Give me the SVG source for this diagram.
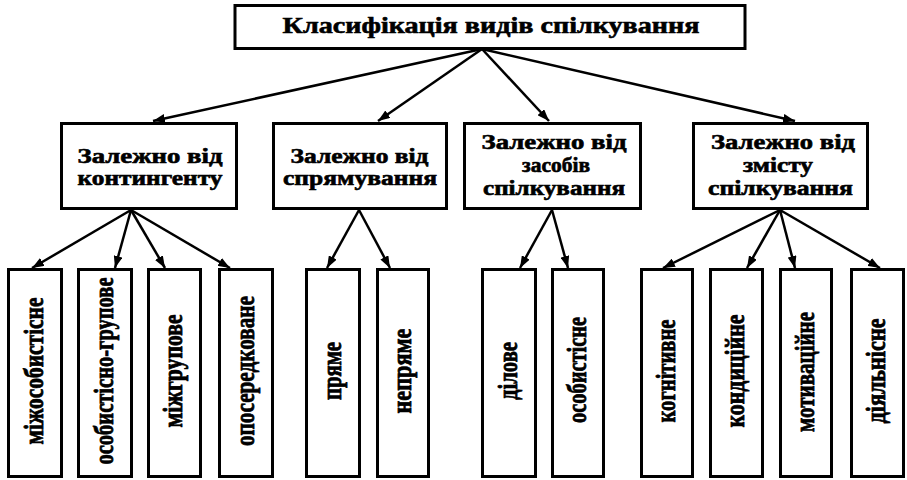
<svg xmlns="http://www.w3.org/2000/svg" width="907" height="480" viewBox="0 0 907 480">
  <style>
    .box { fill: #ffffff; stroke: #000000; stroke-width: 3; }
    .link { fill: none; stroke: #000000; stroke-width: 2.5; marker-end: url(#arrow); }
    text { font-family: "Liberation Serif", "Times New Roman", serif; font-weight: bold; fill: #000000; stroke: #000000; stroke-width: 0.6; }
    .title { font-size: 23px; text-anchor: middle; }
    .cat { font-size: 20px; text-anchor: middle; }
    .leaf { font-size: 21px; text-anchor: middle; }
  </style>
  <defs>
    <marker id="arrow" viewBox="0 0 12 9" refX="12" refY="4.5" markerWidth="12" markerHeight="9" markerUnits="userSpaceOnUse" orient="auto">
      <path d="M0,0 L12,4.5 L0,9 Z" fill="#000000"/>
    </marker>
  </defs>
  <rect width="907" height="480" fill="#ffffff"/>

  <!-- connectors -->
  <g id="connectors">
    <line class="link" x1="482" y1="49" x2="153" y2="121"/>
    <line class="link" x1="482" y1="49" x2="378" y2="121"/>
    <line class="link" x1="482" y1="49" x2="549" y2="121"/>
    <line class="link" x1="482" y1="49" x2="795" y2="121"/>

    <line class="link" x1="131" y1="210" x2="32" y2="268"/>
    <line class="link" x1="131" y1="210" x2="115" y2="268"/>
    <line class="link" x1="131" y1="210" x2="165" y2="268"/>
    <line class="link" x1="131" y1="210" x2="230" y2="268"/>

    <line class="link" x1="359" y1="210" x2="327" y2="268"/>
    <line class="link" x1="359" y1="210" x2="390" y2="268"/>

    <line class="link" x1="552" y1="210" x2="520" y2="268"/>
    <line class="link" x1="552" y1="210" x2="568" y2="268"/>

    <line class="link" x1="780" y1="210" x2="663" y2="268"/>
    <line class="link" x1="780" y1="210" x2="747" y2="268"/>
    <line class="link" x1="780" y1="210" x2="795" y2="268"/>
    <line class="link" x1="780" y1="210" x2="880" y2="268"/>
  </g>

  <!-- root -->
  <g id="root">
    <rect class="box" x="235" y="5.5" width="510" height="43"/>
    <text class="title" x="491" y="33" textLength="417" lengthAdjust="spacingAndGlyphs">Класифікація видів спілкування</text>
  </g>

  <!-- categories -->
  <g id="cat-contingent">
    <rect class="box" x="61.5" y="123.5" width="175" height="85"/>
    <text class="cat" x="150" y="163" textLength="145" lengthAdjust="spacingAndGlyphs">Залежно від</text>
    <text class="cat" x="150" y="185" textLength="145" lengthAdjust="spacingAndGlyphs">контингенту</text>
  </g>
  <g id="cat-direction">
    <rect class="box" x="273.5" y="123.5" width="173" height="85"/>
    <text class="cat" x="359.5" y="163" textLength="138" lengthAdjust="spacingAndGlyphs">Залежно від</text>
    <text class="cat" x="360" y="185" textLength="154" lengthAdjust="spacingAndGlyphs">спрямування</text>
  </g>
  <g id="cat-means">
    <rect class="box" x="464.5" y="123.5" width="176" height="85"/>
    <text class="cat" x="554" y="149" textLength="145" lengthAdjust="spacingAndGlyphs">Залежно від</text>
    <text class="cat" x="556" y="172" textLength="68" lengthAdjust="spacingAndGlyphs">засобів</text>
    <text class="cat" x="554" y="195" textLength="142" lengthAdjust="spacingAndGlyphs">спілкування</text>
  </g>
  <g id="cat-content">
    <rect class="box" x="693.5" y="123.5" width="174" height="85"/>
    <text class="cat" x="783" y="149" textLength="144" lengthAdjust="spacingAndGlyphs">Залежно від</text>
    <text class="cat" x="778" y="172" textLength="70" lengthAdjust="spacingAndGlyphs">змісту</text>
    <text class="cat" x="780.5" y="195" textLength="145" lengthAdjust="spacingAndGlyphs">спілкування</text>
  </g>

  <!-- leaves -->
  <g id="leaf-interpersonal">
    <rect class="box" x="8.5" y="269.5" width="53" height="207"/>
    <text class="leaf" transform="translate(43,371) scale(1.35,1) rotate(-90)" textLength="147" lengthAdjust="spacingAndGlyphs">міжособистісне</text>
  </g>
  <g id="leaf-personal-group">
    <rect class="box" x="78.5" y="269.5" width="53" height="207"/>
    <text class="leaf" transform="translate(113,371) scale(1.35,1) rotate(-90)" textLength="187" lengthAdjust="spacingAndGlyphs">особистісно-групове</text>
  </g>
  <g id="leaf-intergroup">
    <rect class="box" x="148.5" y="269.5" width="52" height="207"/>
    <text class="leaf" transform="translate(182,371) scale(1.35,1) rotate(-90)" textLength="113" lengthAdjust="spacingAndGlyphs">міжгрупове</text>
  </g>
  <g id="leaf-mediated">
    <rect class="box" x="219.5" y="269.5" width="53" height="207"/>
    <text class="leaf" transform="translate(254,371) scale(1.35,1) rotate(-90)" textLength="150" lengthAdjust="spacingAndGlyphs">опосередковане</text>
  </g>

  <g id="leaf-direct">
    <rect class="box" x="306.5" y="269.5" width="53" height="207"/>
    <text class="leaf" transform="translate(341,371) scale(1.35,1) rotate(-90)" textLength="58" lengthAdjust="spacingAndGlyphs">пряме</text>
  </g>
  <g id="leaf-indirect">
    <rect class="box" x="377.5" y="269.5" width="51" height="207"/>
    <text class="leaf" transform="translate(411,371) scale(1.35,1) rotate(-90)" textLength="85" lengthAdjust="spacingAndGlyphs">непряме</text>
  </g>

  <g id="leaf-business">
    <rect class="box" x="482.5" y="269.5" width="53" height="207"/>
    <text class="leaf" transform="translate(517,371) scale(1.35,1) rotate(-90)" textLength="58" lengthAdjust="spacingAndGlyphs">ділове</text>
  </g>
  <g id="leaf-personal">
    <rect class="box" x="552.5" y="269.5" width="51" height="207"/>
    <text class="leaf" transform="translate(586,370) scale(1.35,1) rotate(-90)" textLength="106" lengthAdjust="spacingAndGlyphs">особистісне</text>
  </g>

  <g id="leaf-cognitive">
    <rect class="box" x="641.5" y="269.5" width="51" height="207"/>
    <text class="leaf" transform="translate(675,371) scale(1.35,1) rotate(-90)" textLength="103" lengthAdjust="spacingAndGlyphs">когнітивне</text>
  </g>
  <g id="leaf-conditional">
    <rect class="box" x="710.5" y="269.5" width="52" height="207"/>
    <text class="leaf" transform="translate(744,371) scale(1.35,1) rotate(-90)" textLength="113" lengthAdjust="spacingAndGlyphs">кондиційне</text>
  </g>
  <g id="leaf-motivational">
    <rect class="box" x="780.5" y="269.5" width="51" height="207"/>
    <text class="leaf" transform="translate(814,372) scale(1.35,1) rotate(-90)" textLength="120" lengthAdjust="spacingAndGlyphs">мотиваційне</text>
  </g>
  <g id="leaf-activity">
    <rect class="box" x="851.5" y="269.5" width="52" height="207"/>
    <text class="leaf" transform="translate(885,371) scale(1.35,1) rotate(-90)" textLength="105" lengthAdjust="spacingAndGlyphs">діяльнісне</text>
  </g>
</svg>
